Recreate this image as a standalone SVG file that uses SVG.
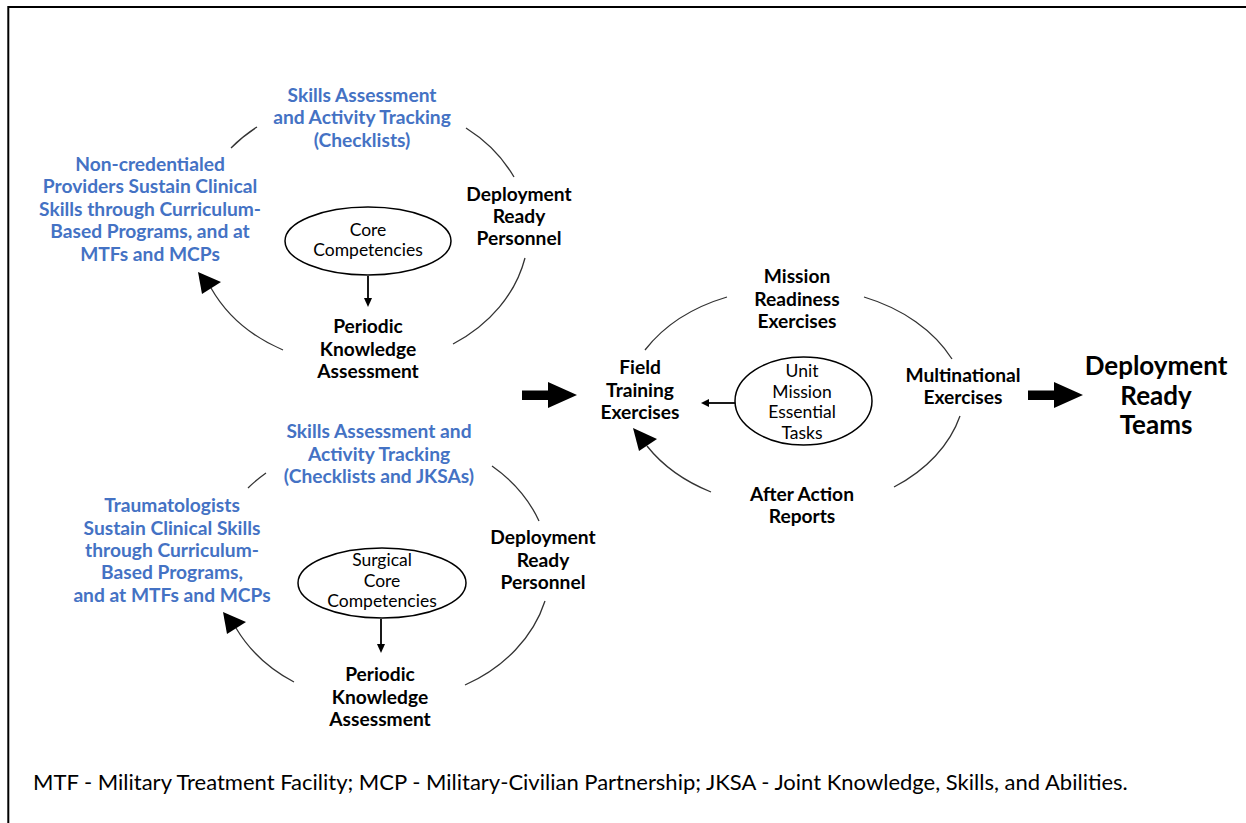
<svg xmlns="http://www.w3.org/2000/svg" width="1246" height="823" viewBox="0 0 1246 823">
<style>
.t{font-family:Lato,"Liberation Sans",sans-serif;font-weight:bold;font-size:19.2px;fill:#000;text-anchor:middle}
.b{fill:#4472C4}
.s{font-family:Lato,"Liberation Sans",sans-serif;font-size:17.5px;fill:#000;text-anchor:middle}
.big{font-family:Lato,"Liberation Sans",sans-serif;font-weight:bold;font-size:26px;fill:#000;text-anchor:middle}
.cap{font-family:Lato,"Liberation Sans",sans-serif;font-size:22px;fill:#000}
.arc{fill:none;stroke:#333;stroke-width:1.3}
.el{fill:#fff;stroke:#000;stroke-width:1.5}
.ln{stroke:#000;stroke-width:1.8}
.hd{fill:#000}
</style>
<rect width="1246" height="823" fill="#fff"/>
<path d="M8.3,823 V7 H1246" fill="none" stroke="#000" stroke-width="2"/>

<g id="connectors">
  <!-- top-left cycle -->
  <path class="arc" d="M231,148 A160,135 0 0 1 257,127"/>
  <path class="arc" d="M466,128 A160,135 0 0 1 514,177"/>
  <path class="arc" d="M525,258 A160,135 0 0 1 453,344"/>
  <path class="arc" d="M283,350 A160,135 0 0 1 211,288"/>
  <polygon class="hd" points="198,272 202,294 221,282"/>
  <line class="ln" x1="368" y1="276" x2="368" y2="299"/>
  <polygon class="hd" points="364,298 372,298 368,307"/>
  <!-- bottom-left cycle -->
  <path class="arc" d="M248,488 A160,135 0 0 1 266,473"/>
  <path class="arc" d="M492,466 A160,135 0 0 1 539,521"/>
  <path class="arc" d="M545,601 A160,135 0 0 1 465,685"/>
  <path class="arc" d="M294,682 A160,135 0 0 1 236,628"/>
  <polygon class="hd" points="223,612 227,634 246,622"/>
  <line class="ln" x1="381" y1="619" x2="381" y2="645"/>
  <polygon class="hd" points="377,644 385,644 381,653"/>
  <!-- right cycle -->
  <path class="arc" d="M645,350 A165,125 0 0 1 727,297"/>
  <path class="arc" d="M864,297 A165,125 0 0 1 952,359"/>
  <path class="arc" d="M960,416 A165,125 0 0 1 894,487"/>
  <path class="arc" d="M711,492 A165,125 0 0 1 647,446"/>
  <polygon class="hd" points="633,428 639,451 657,439"/>
  <line class="ln" x1="735" y1="403" x2="708" y2="403"/>
  <polygon class="hd" points="709,399 709,407 701,403"/>
  <!-- big arrows -->
  <polygon class="hd" points="522,390.5 548,390.5 548,382 577,395 548,408 548,400 522,400"/>
  <polygon class="hd" points="1028,390.5 1054,390.5 1054,382 1083,395 1054,408 1054,400 1028,400"/>
</g>

<g id="tl-skills">
  <text class="t b" x="362" y="102">Skills Assessment</text>
  <text class="t b" x="362" y="124">and Activity Tracking</text>
  <text class="t b" x="362" y="147">(Checklists)</text>
</g>
<g id="tl-providers">
  <text class="t b" x="150" y="171">Non-credentialed</text>
  <text class="t b" x="150" y="193">Providers Sustain Clinical</text>
  <text class="t b" x="150" y="216">Skills through Curriculum-</text>
  <text class="t b" x="150" y="238">Based Programs, and at</text>
  <text class="t b" x="150" y="261">MTFs and MCPs</text>
</g>
<g id="tl-deploy">
  <text class="t" x="519" y="201">Deployment</text>
  <text class="t" x="519" y="223">Ready</text>
  <text class="t" x="519" y="245">Personnel</text>
</g>
<g id="tl-core">
  <ellipse class="el" cx="368" cy="241" rx="83" ry="34"/>
  <text class="s" x="368" y="236">Core</text>
  <text class="s" x="368" y="256">Competencies</text>
</g>
<g id="tl-periodic">
  <text class="t" x="368" y="333">Periodic</text>
  <text class="t" x="368" y="356">Knowledge</text>
  <text class="t" x="368" y="378">Assessment</text>
</g>

<g id="bl-skills">
  <text class="t b" x="379" y="438">Skills Assessment and</text>
  <text class="t b" x="379" y="461">Activity Tracking</text>
  <text class="t b" x="379" y="483">(Checklists and JKSAs)</text>
</g>
<g id="bl-traumatologists">
  <text class="t b" x="172" y="512">Traumatologists</text>
  <text class="t b" x="172" y="535">Sustain Clinical Skills</text>
  <text class="t b" x="172" y="557">through Curriculum-</text>
  <text class="t b" x="172" y="579">Based Programs,</text>
  <text class="t b" x="172" y="602">and at MTFs and MCPs</text>
</g>
<g id="bl-deploy">
  <text class="t" x="543" y="544">Deployment</text>
  <text class="t" x="543" y="567">Ready</text>
  <text class="t" x="543" y="589">Personnel</text>
</g>
<g id="bl-core">
  <ellipse class="el" cx="382" cy="583" rx="84" ry="35"/>
  <text class="s" x="382" y="566">Surgical</text>
  <text class="s" x="382" y="587">Core</text>
  <text class="s" x="382" y="607">Competencies</text>
</g>
<g id="bl-periodic">
  <text class="t" x="380" y="681">Periodic</text>
  <text class="t" x="380" y="704">Knowledge</text>
  <text class="t" x="380" y="726">Assessment</text>
</g>

<g id="r-mission">
  <text class="t" x="797" y="283">Mission</text>
  <text class="t" x="797" y="306">Readiness</text>
  <text class="t" x="797" y="328">Exercises</text>
</g>
<g id="r-field">
  <text class="t" x="640" y="374">Field</text>
  <text class="t" x="640" y="397">Training</text>
  <text class="t" x="640" y="419">Exercises</text>
</g>
<g id="r-unit">
  <ellipse class="el" cx="803.5" cy="401" rx="68.5" ry="44"/>
  <text class="s" x="802" y="377">Unit</text>
  <text class="s" x="802" y="398">Mission</text>
  <text class="s" x="802" y="418">Essential</text>
  <text class="s" x="802" y="439">Tasks</text>
</g>
<g id="r-multi">
  <text class="t" x="963" y="382">Multinational</text>
  <text class="t" x="963" y="404">Exercises</text>
</g>
<g id="r-after">
  <text class="t" x="802" y="501">After Action</text>
  <text class="t" x="802" y="523">Reports</text>
</g>
<g id="teams">
  <text class="big" x="1156" y="375">Deployment</text>
  <text class="big" x="1156" y="405">Ready</text>
  <text class="big" x="1156" y="434">Teams</text>
</g>
<g id="caption">
  <text class="cap" x="33" y="790">MTF - Military Treatment Facility; MCP - Military-Civilian Partnership; JKSA - Joint Knowledge, Skills, and Abilities.</text>
</g>
</svg>
